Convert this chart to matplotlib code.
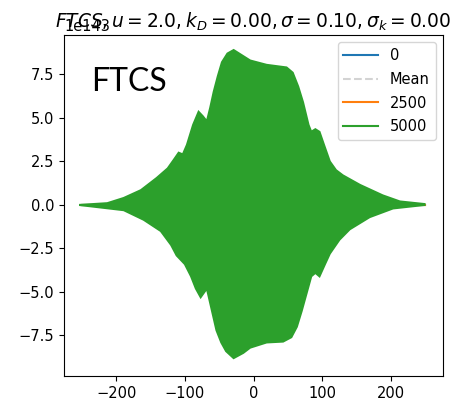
import numpy as np
import matplotlib.pyplot as plt

# domain edges and the flat early-time profiles (tiny on the 1e143 scale)
x_domain = [-250, 250]
u_initial = [0.0, 0.0]
u_mean = [0.0, 0.0]
u_2500 = [0.0, 0.0]

# envelope of the blown-up FTCS solution at step 5000 (units of 1e143)
x_upper = [-254, -213, -189, -164, -141, -125, -116, -109, -103, -97, -88, -80, -74, -68,
           -63, -58, -52, -46, -38, -29, -15, -5, 19, 48, 57, 65, 72, 80, 84, 90, 96,
           103, 111, 120, 130, 155, 188, 213, 249]
u_upper = [0.0, 0.1, 0.4, 0.85, 1.55, 2.1, 2.6, 3.0, 2.9, 3.45, 4.6, 5.35, 5.1, 4.8,
           5.6, 6.5, 7.4, 8.2, 8.7, 8.9, 8.55, 8.3, 8.05, 7.9, 7.6, 6.8, 5.9, 4.6, 4.2, 4.35, 4.2,
           3.4, 2.5, 2.0, 1.7, 1.15, 0.55, 0.2, 0.05]
x_lower = [-254, -189, -160, -135, -120, -112, -100, -91, -84, -77, -68, -61, -54, -47,
           -40, -29, -15, -5, 19, 43, 55, 63, 70, 77, 84, 90, 96, 104, 111, 125, 140,
           169, 203, 249]
u_lower = [0.0, -0.3, -0.85, -1.5, -2.3, -2.9, -3.4, -4.1, -4.8, -5.3, -4.8, -6.0, -7.2,
           -7.9, -8.4, -8.8, -8.5, -8.2, -7.9, -7.85, -7.6, -7.0, -6.1, -5.1, -4.1, -3.9,
           -4.1, -3.4, -2.8, -2.0, -1.4, -0.7, -0.2, 0.0]

scale = 1e143

fig = plt.figure(figsize=(4.54, 4.08), dpi=100)
ax = fig.add_axes([0.141, 0.0784, 0.835, 0.836])

ax.plot(x_domain, np.array(u_initial) * scale, color='tab:blue', label='0', zorder=1)
ax.plot(x_domain, np.array(u_mean) * scale, color='lightgray', ls='--', label='Mean', zorder=1)
ax.plot(x_domain, np.array(u_2500) * scale, color='tab:orange', label='2500', zorder=1)

xs = np.concatenate([x_upper, x_lower[::-1]])
ys = np.concatenate([u_upper, u_lower[::-1]]) * scale
ax.fill(xs, ys, color='tab:green', lw=1.5, ec='tab:green', zorder=3)
ax.plot([], [], color='tab:green', label='5000')

ax.set_xlim(-276, 276)
ax.set_ylim(-9.83e143, 9.77e143)
ax.set_xticks([-200, -100, 0, 100, 200])
ax.set_yticks(np.arange(-7.5, 7.6, 2.5) * scale)
ax.tick_params(labelsize=10.5)
ax.yaxis.get_offset_text().set_fontsize(10.5)

# fixed y keeps the title on the axes instead of being pushed up by the offset text
ax.set_title(r'$FTCS, u = 2.0, k_D = 0.00, \sigma = 0.10, \sigma_k = 0.00$',
             fontsize=13.4, y=1.0, pad=5)
ax.legend(loc='upper right', fontsize=10.5, handlelength=2.4, labelspacing=0.6)

ax.text(0.072, 0.835, 'FTCS', transform=ax.transAxes, fontsize=23, family='Lato')

fig.savefig('out.png', dpi=100)
